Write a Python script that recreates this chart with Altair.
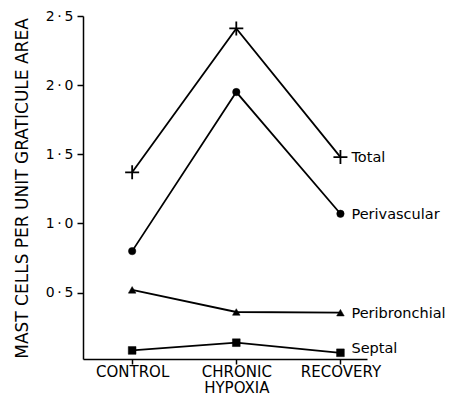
import json
import altair as alt
import pandas as pd

categories = ["CONTROL", "CHRONIC HYPOXIA", "RECOVERY"]
series = ["Total", "Perivascular", "Peribronchial", "Septal"]
total = [1.37, 2.41, 1.48]
perivascular = [0.80, 1.95, 1.07]
peribronchial = [0.52, 0.36, 0.355]
septal = [0.082, 0.138, 0.065]
y_ticks = [0.5, 1.0, 1.5, 2.0, 2.5]

values = {"Total": total, "Perivascular": perivascular,
          "Peribronchial": peribronchial, "Septal": septal}
rows = []
for s in series:
    for i, v in enumerate(values[s]):
        rows.append({"series": s, "idx": i, "category": categories[i], "value": v})
df = pd.DataFrame(rows)

FONT = "DejaVu Sans"

x = alt.X("idx:Q",
          scale=alt.Scale(domain=[-0.472, 2.255], nice=False, zero=False),
          axis=alt.Axis(values=[0, 1, 2], title=None,
                        labelExpr=f"split({json.dumps(categories)}[datum.value], ' ')",
                        labelFont=FONT, labelFontSize=15, labelColor="black",
                        labelLineHeight=16.5, labelPadding=0, labelFlush=False,
                        labelOverlap=False,
                        tickSize=5, tickColor="black", tickWidth=1.5,
                        domainColor="black", domainWidth=1.5, grid=False))
y = alt.Y("value:Q",
          scale=alt.Scale(domain=[0.02, 2.5], nice=False, zero=False),
          axis=alt.Axis(values=y_ticks, title="MAST CELLS PER UNIT GRATICULE AREA",
                        labelExpr="replace(format(datum.value, '.1f'), '.', '\u2009·\u2009')",
                        labelFont=FONT, labelFontSize=14, labelColor="black",
                        labelPadding=4, tickSize=6, tickColor="black", tickWidth=1.5,
                        domainColor="black", domainWidth=1.5, grid=False,
                        titleFont=FONT, titleFontSize=17, titleFontWeight="normal",
                        titleColor="black", titleAngle=-90, titleX=-61, titleY=172,
                        titleAlign="center", titleBaseline="middle"))

base = alt.Chart(df)

lines = base.mark_line(color="black", strokeWidth=1.8).encode(x=x, y=y, detail="series:N")

crosses = base.transform_filter(alt.datum.series == "Total").mark_point(
    shape="M-1,0L1,0M0,-1L0,1", size=196, filled=False, stroke="black",
    strokeWidth=1.8, opacity=1).encode(x=x, y=y)

others = base.transform_filter(alt.datum.series != "Total").mark_point(
    filled=True, fill="black", stroke="black", strokeWidth=0.5, opacity=1).encode(
    x=x, y=y,
    shape=alt.Shape("series:N", scale=alt.Scale(
        domain=["Perivascular", "Peribronchial", "Septal"],
        range=["circle", "triangle-up", "square"]), legend=None),
    size=alt.Size("series:N", scale=alt.Scale(
        domain=["Perivascular", "Peribronchial", "Septal"],
        range=[55, 60, 55]), legend=None))

labels = base.transform_filter(
    (alt.datum.idx == 2) & (alt.datum.series != "Septal")).mark_text(
    align="left", baseline="middle", dx=11, dy=1, font=FONT, fontSize=14.5,
    color="black").encode(x=x, y=y, text="series:N")

septal_label = base.transform_filter(
    (alt.datum.idx == 2) & (alt.datum.series == "Septal")).mark_text(
    align="left", baseline="middle", dx=11, dy=-4, font=FONT, fontSize=14.5,
    color="black").encode(x=x, y=y, text="series:N")

chart = alt.layer(lines, crosses, others, labels, septal_label).properties(
    width=284, height=343,
    autosize=alt.AutoSizeParams(type="none"),
    padding={"left": 75, "top": 8, "right": 81, "bottom": 38},
).configure(background="white", view=alt.ViewConfig(stroke=None))

chart.save("out.html", embed_options={"renderer": "svg", "actions": False})
